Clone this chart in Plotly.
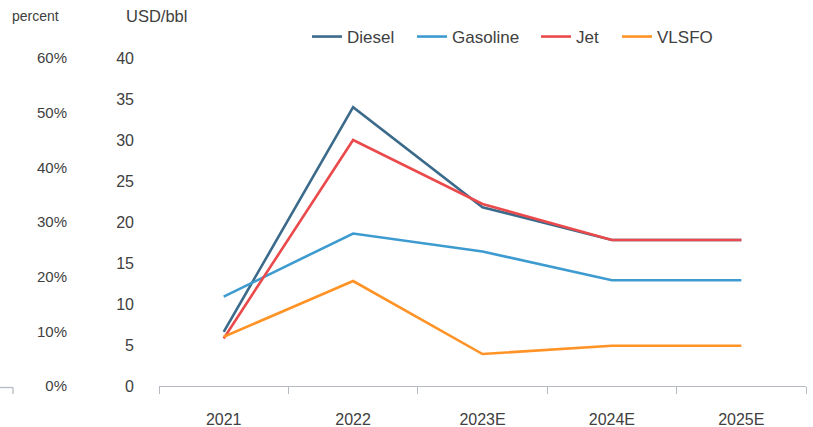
import plotly.graph_objects as go

categories = ["2021", "2022", "2023E", "2024E", "2025E"]
diesel = [6.6, 34.0, 21.8, 17.8, 17.8]
gasoline = [10.9, 18.6, 16.4, 12.9, 12.9]
jet = [5.8, 30.0, 22.2, 17.8, 17.8]
vlsfo = [6.0, 12.8, 3.9, 4.9, 4.9]

series = [
    ("Diesel", diesel, "#3B6A8A"),
    ("Gasoline", gasoline, "#3D9BD0"),
    ("Jet", jet, "#EB4A4C"),
    ("VLSFO", vlsfo, "#FF9326"),
]
legend_text_x = [347, 452, 576, 657]

W, H = 813, 427
ml, mr, mt, mb = 0, 7, 58, 41
pw = W - ml - mr
ph = H - mt - mb

FONT = "Liberation Sans, Arial, sans-serif"
TXT = "#404040"

fig = go.Figure()
legends = {}
for i, (name, vals, col) in enumerate(series):
    lname = "legend" if i == 0 else f"legend{i + 1}"
    fig.add_trace(go.Scatter(x=categories, y=vals, name=name, mode="lines", legend=lname,
                             line=dict(color=col, width=2.6)))
    legends[lname] = dict(orientation="h", x=(legend_text_x[i] - 40) / pw, y=1 + (mt - 37) / ph,
                          xanchor="left", yanchor="middle",
                          font=dict(size=17, color=TXT), bgcolor="rgba(0,0,0,0)")
# placeholder trace for the percent axis
fig.add_trace(go.Scatter(x=[], y=[], yaxis="y2", showlegend=False, hoverinfo="skip"))

fig.update_layout(
    width=W, height=H,
    margin=dict(l=ml, r=mr, t=mt, b=mb),
    paper_bgcolor="white", plot_bgcolor="white",
    font=dict(family=FONT, size=16, color=TXT),
    showlegend=True,
    xaxis=dict(domain=[159 / pw, 1], type="category", tickson="boundaries", range=[-0.5, 4.5],
               showline=True, linecolor="#B4B9C2", linewidth=1.3,
               ticks="outside", ticklen=7, tickcolor="#B4B9C2", tickwidth=1.3,
               showgrid=False, zeroline=False, automargin=False,
               ticklabelstandoff=19, tickfont=dict(size=16, color=TXT)),
    yaxis=dict(range=[0, 40], dtick=5, showgrid=False, zeroline=False, showline=False,
               ticks="", ticklabelstandoff=24, automargin=False,
               tickfont=dict(size=16, color=TXT)),
    yaxis2=dict(range=[0, 0.6], dtick=0.1, tickformat=".0%", overlaying="y", anchor="free",
                position=67 / pw, side="left", showgrid=False, zeroline=False, showline=False,
                ticks="", automargin=False, tickfont=dict(size=15, color=TXT)),
    annotations=[
        dict(text="percent", xref="paper", yref="paper", x=10 / pw, y=1 + (mt - 16) / ph,
             xanchor="left", yanchor="middle", showarrow=False, font=dict(size=14, color=TXT)),
        dict(text="USD/bbl", xref="paper", yref="paper", x=124 / pw, y=1 + (mt - 16) / ph,
             xanchor="left", yanchor="middle", showarrow=False, font=dict(size=16.5, color=TXT)),
    ],
    shapes=[
        dict(type="line", xref="paper", yref="paper", x0=0, x1=13 / pw, y0=-1.5 / ph, y1=-1.5 / ph,
             line=dict(color="#B4B9C2", width=1.3)),
        dict(type="line", xref="paper", yref="paper", x0=13 / pw, x1=13 / pw, y0=-1.5 / ph, y1=-8 / ph,
             line=dict(color="#B4B9C2", width=1.3)),
    ],
)
fig.update_layout(**legends)

fig.write_html("out.html")
